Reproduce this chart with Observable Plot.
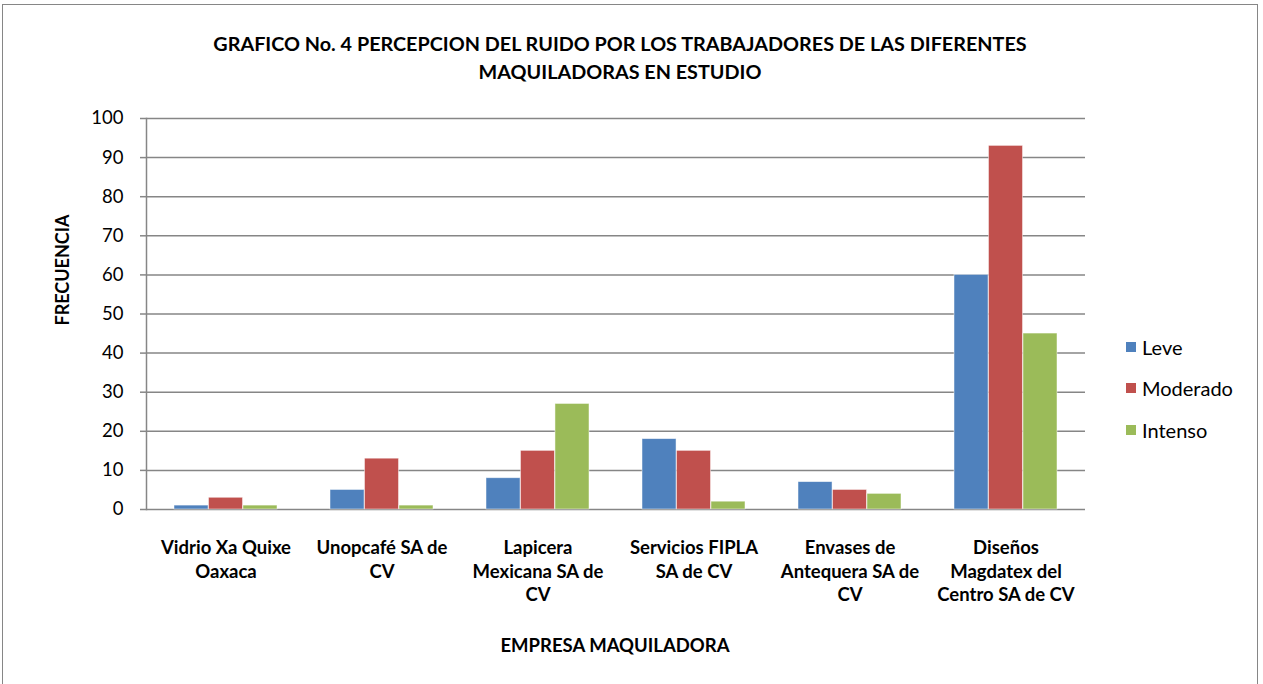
<!DOCTYPE html>
<html><head><meta charset="utf-8">
<script src="https://cdn.jsdelivr.net/npm/d3@7"></script>
<script src="https://cdn.jsdelivr.net/npm/@observablehq/plot@0.6"></script>
<style>
body{margin:0;background:#fff;font-family:Lato,"Open Sans",sans-serif;color:#000;}
#wrap{position:relative;width:1263px;height:684px;overflow:hidden;}
#border{position:absolute;left:2px;top:4px;width:1256px;height:720px;border:1.5px solid #868686;box-sizing:border-box;}
#chart{position:absolute;left:0;top:0;}
#title{position:absolute;left:60px;width:1120px;top:29px;text-align:center;font-weight:bold;font-size:19.8px;line-height:28px;}
#ytitle{position:absolute;left:62px;top:270px;transform:translate(-50%,-50%) rotate(-90deg);font-weight:bold;font-size:18px;white-space:nowrap;}
#xtitle{position:absolute;left:615px;top:645px;transform:translate(-50%,-50%);font-weight:bold;font-size:18.5px;white-space:nowrap;}
#legend{position:absolute;left:1126px;top:326px;font-size:20px;}
.li{display:flex;align-items:center;height:41.5px;}
.sw{width:10px;height:10px;margin-right:6px;}
</style></head>
<body>
<div id="wrap">
  <div id="border"></div>
  <div id="chart"></div>
  <div id="title">GRAFICO No. 4 PERCEPCION DEL RUIDO POR LOS TRABAJADORES DE LAS DIFERENTES<br>MAQUILADORAS EN ESTUDIO</div>
  <div id="ytitle">FRECUENCIA</div>
  <div id="xtitle">EMPRESA MAQUILADORA</div>
  <div id="legend"></div>
</div>
<script>
const categories = [
  "Vidrio Xa Quixe Oaxaca",
  "Unopcafé SA de CV",
  "Lapicera Mexicana SA de CV",
  "Servicios FIPLA SA de CV",
  "Envases de Antequera SA de CV",
  "Diseños Magdatex del Centro SA de CV"
];
const categoryLabels = [
  "Vidrio Xa Quixe\nOaxaca",
  "Unopcafé SA de\nCV",
  "Lapicera\nMexicana SA de\nCV",
  "Servicios FIPLA\nSA de CV",
  "Envases de\nAntequera SA de\nCV",
  "Diseños\nMagdatex del\nCentro SA de CV"
];
const series = ["Leve", "Moderado", "Intenso"];
const leve = [1, 5, 8, 18, 7, 60];
const moderado = [3, 13, 15, 15, 5, 93];
const intenso = [1, 1, 27, 2, 4, 45];
const colors = ["#4F81BD", "#C0504D", "#9BBB59"];
const yTicks = [0, 10, 20, 30, 40, 50, 60, 70, 80, 90, 100];

const W = 1263, H = 684;
const mL = 146, mR = 178, mT = 118, mB = 175;
const padIn = 0.339, padOut = 0.1695;
const plotW = W - mL - mR;
const step = plotW / (categories.length - padIn + 2 * padOut);
const bw = step * (1 - padIn);
const w = bw / 3;

const seriesValues = [leve, moderado, intenso];
const labelOf = new Map(categories.map((c, i) => [c, categoryLabels[i]]));

const barMarks = seriesValues.map((vals, s) =>
  Plot.barY(categories.map((c, i) => ({cat: c, value: vals[i], series: series[s]})), {
    x: "cat", y: "value", fill: colors[s],
    stroke: "#ffffff", strokeOpacity: 0.6, strokeWidth: 0.8,
    insetLeft: s * w, insetRight: (2 - s) * w
  })
);

const chart = Plot.plot({
  width: W, height: H,
  marginLeft: mL, marginRight: mR, marginTop: mT, marginBottom: mB,
  style: {fontFamily: "Lato, 'Open Sans', sans-serif", color: "#000", background: "transparent"},
  x: {domain: categories, paddingInner: padIn, paddingOuter: padOut},
  y: {domain: [0, 100]},
  marks: [
    Plot.ruleY(yTicks, {stroke: "#868686", strokeWidth: 1.5}),
    Plot.frame({anchor: "left", stroke: "#868686", strokeWidth: 1.5}),
    ...barMarks,
    Plot.axisY({ticks: yTicks, tickSize: 6, tickPadding: 17, fontSize: 18.5, label: null, stroke: "#868686", strokeWidth: 1.5, tickFormat: d => String(d)}),
    Plot.axisX({tickSize: 0, tickPadding: 28, fontSize: 18.5, fontWeight: "bold", lineHeight: 1.27, label: null, tickFormat: d => labelOf.get(d)})
  ]
});
document.getElementById("chart").appendChild(chart);

const legend = document.getElementById("legend");
series.forEach((s, i) => {
  const row = document.createElement("div");
  row.className = "li";
  row.innerHTML = `<div class="sw" style="background:${colors[i]}"></div><span>${s}</span>`;
  legend.appendChild(row);
});
</script>
</body></html>
